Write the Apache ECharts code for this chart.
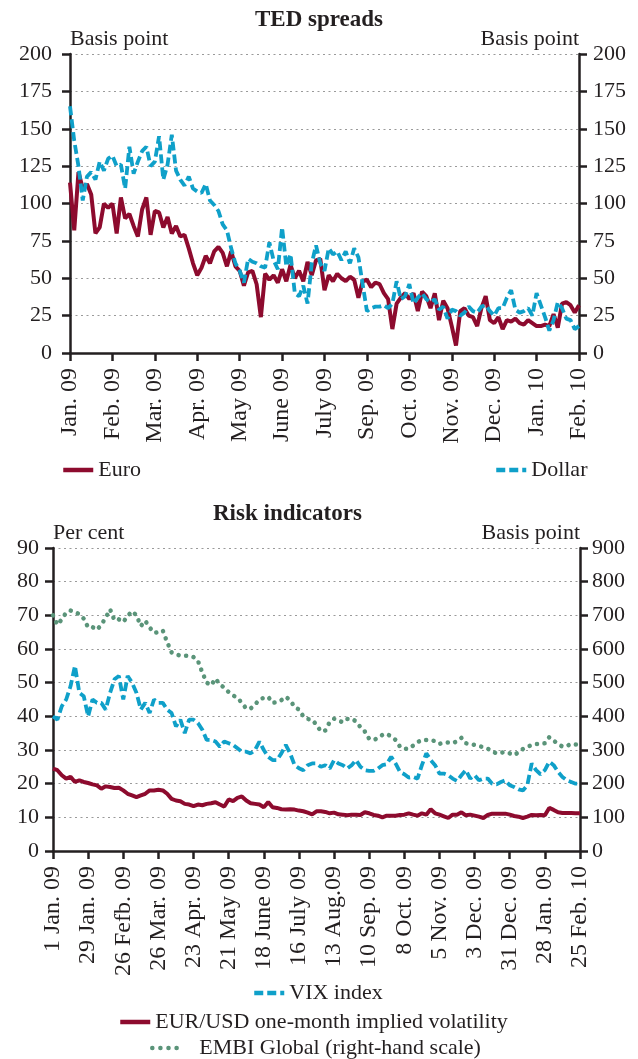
<!DOCTYPE html>
<html>
<head>
<meta charset="utf-8">
<script src="https://cdn.jsdelivr.net/npm/echarts@6/dist/echarts.min.js"></script>
<style>
  html, body { margin: 0; padding: 0; background: #fff; }
  #chart { width: 638px; height: 1059px; }
</style>
</head>
<body>
<div id="chart"></div>
<script>
// TED spreads, one point per ~2 business days, a labelled tick every TED_STEP points
const TED_STEP = 10
const tedTickLabels = ['Jan. 09', 'Feb. 09', 'Mar. 09', 'Apr. 09', 'May 09', 'June 09', 'July 09',
  'Sep. 09', 'Oct. 09', 'Nov. 09', 'Dec. 09', 'Jan. 10', 'Feb. 10']
const euro = [
  114, 82, 121, 110, 113, 106, 80, 84, 100, 97,
  100, 80, 104, 90, 93, 85, 78, 96, 104, 79,
  95, 94, 84, 91, 80, 85, 78, 79, 70, 60,
  52, 57, 65, 60, 68, 71, 67, 58, 68, 58,
  55, 45, 54, 55, 46, 24, 53, 49, 52, 47,
  56, 48, 59, 50, 55, 48, 61, 52, 62, 63,
  42, 52, 48, 53, 50, 48, 51, 49, 37, 48,
  49, 44, 47, 46, 40, 36, 16, 33, 37, 40,
  36, 40, 28, 41, 38, 30, 40, 22, 35, 30,
  18, 5, 28, 30, 25, 24, 18, 30, 38, 22,
  20, 24, 16, 22, 21, 23, 20, 19, 22, 20,
  18, 18, 19, 18, 26, 17, 33, 34, 32, 27, 32
]
const dollar = [
  165, 142, 125, 102, 118, 121, 116, 128, 122, 130,
  132, 125, 126, 110, 138, 120, 128, 135, 138, 125,
  128, 145, 116, 126, 146, 122, 116, 112, 118, 110,
  108, 107, 113, 102, 99, 95, 86, 82, 70, 60,
  55, 47, 63, 61, 60, 58, 57, 74, 62, 56,
  84, 58, 66, 40, 38, 45, 33, 60, 72, 60,
  55, 70, 66, 68, 62, 68, 60, 70, 64, 46,
  28, 30, 31, 31, 32, 30, 33, 48, 36, 38,
  46, 33, 37, 40, 36, 34, 36, 29, 31, 23,
  29, 28, 25, 27, 31, 28, 27, 31, 32, 28,
  25, 30, 30, 37, 42, 29, 27, 28, 30, 25,
  40, 32, 24, 15, 22, 34, 30, 23, 22, 16, 18
]

// Risk indicators, a labelled tick every RISK_STEP points (4 weeks)
const RISK_STEP = 8
const riskTickLabels = ['1 Jan. 09', '29 Jan. 09', '26 Fefb. 09', '26 Mar. 09', '23 Apr. 09', '21 May 09',
  '18 June 09', '16 July 09', '13 Aug.09', '10 Sep. 09', '8 Oct. 09', '5 Nov. 09', '3 Dec. 09',
  '31 Dec. 09', '28 Jan. 09', '25 Feb. 10']
const vix = [
  40, 39, 43, 45, 49, 55, 47, 46, 40, 45,
  44, 44, 42, 47, 51, 52, 45, 52, 50, 47,
  42, 44, 41, 45, 44, 44, 42, 41, 37, 39,
  35, 39, 39, 38, 36, 33, 33, 32.5, 31, 32.5,
  32, 31.5, 30.5, 29.5, 29.5, 29, 30, 32.5, 30, 28,
  27, 27, 29, 31.5, 29, 25.5, 24.6, 24, 25.5, 26,
  26, 25, 25.5, 24.5, 27, 26, 25.5, 24.5, 25.5, 27,
  25, 24, 23.8, 23.8, 24.5, 25.5, 25.8, 28, 26, 23.5,
  22.8, 21.8, 22, 21.5, 25.5, 29, 27, 25.5, 23, 23,
  22.5, 21.5, 20.8, 22.5, 24, 21.5, 22.5, 21, 21.5, 21.5,
  20, 19.8, 20.5, 21, 19.5, 19, 18.3, 18, 19.5, 26,
  24, 22.8, 24, 26.5, 25.5, 23.5, 22, 21, 20.5, 20, 20
]
const eurUsdVol = [
  24.5, 24, 22.5, 21.5, 22, 20.5, 21, 20.5, 20.2, 19.8,
  19.5, 18.5, 19.2, 19, 18.7, 18.8, 18, 17, 16.5, 16,
  16.5, 17, 18, 18, 18.2, 18, 17, 15.5, 15, 14.8,
  14, 13.8, 13.3, 13.8, 13.6, 14, 14.2, 14.5, 13.8, 13.2,
  15.3, 14.8, 15.8, 16.2, 15, 14.2, 14, 13.8, 13, 14.5,
  13, 12.8, 12.4, 12.3, 12.4, 12.3, 12, 11.8, 11.4, 10.9,
  11.8, 11.8, 11.6, 11.2, 11.4, 10.9, 10.8, 10.6, 10.8, 10.8,
  10.7, 11.5, 11.2, 10.7, 10.5, 10, 10.5, 10.5, 10.5, 10.7,
  10.8, 11.2, 10.8, 10.5, 11.2, 10.8, 12.4, 11.2, 10.8, 10.3,
  9.8, 10.8, 10.8, 11.5, 10.6, 10.8, 10.5, 10.2, 9.8, 10.7,
  11.1, 11.1, 11.1, 11.1, 10.8, 10.4, 10.2, 9.8, 10.2, 10.7,
  10.6, 10.7, 10.6, 12.8, 12.2, 11.5, 11.3, 11.3, 11.3, 11.2, 11.2
]
const embi = [
  700, 672, 688, 708, 714, 710, 703, 690, 664, 665,
  657, 672, 693, 718, 685, 688, 680, 698, 712, 700,
  668, 684, 664, 648, 650, 655, 620, 590, 584, 580,
  580, 580, 576, 565, 530, 500, 492, 512, 495, 485,
  472, 462, 455, 440, 423, 423, 435, 450, 455, 458,
  440, 442, 448, 458, 448, 428, 420, 400, 392, 390,
  375, 355, 358, 383, 393, 388, 382, 392, 393, 385,
  368, 355, 333, 330, 335, 345, 348, 340, 330, 310,
  303, 304, 313, 323, 330, 330, 330, 326, 318, 322,
  322, 320, 326, 336, 320, 318, 315, 312, 308, 304,
  296, 290, 292, 294, 290, 285, 293, 303, 310, 314,
  318, 318, 320, 338, 328, 318, 310, 312, 318, 316, 316
]

const FONT = "'Liberation Serif', 'Times New Roman', serif"
const INK = '#231f20'
const RED = '#8d0b2e'
const BLUE = '#0fa0c9'
const GREEN = '#5a9479'

const tedCats = euro.map((v, i) => String(i))
const riskCats = vix.map((v, i) => String(i))

const axisLineStyle = { color: INK, width: 2.5 }
const labelStyle = { fontFamily: FONT, fontSize: 22, color: INK }
const titleStyle = { fontFamily: FONT, fontSize: 23, fontWeight: 'bold', color: INK }

function catAxis (gridIndex, cats, step, labels) {
  const every = (i) => i % step === 0
  return {
    type: 'category',
    gridIndex: gridIndex,
    data: cats,
    boundaryGap: false,
    axisLine: { lineStyle: axisLineStyle },
    axisTick: { show: true, length: 8, interval: every, lineStyle: axisLineStyle },
    axisLabel: Object.assign({}, labelStyle, {
      interval: every,
      rotate: 90,
      margin: 15,
      fontSize: 24,
      formatter: (v, i) => labels[i / step] || ''
    }),
    splitLine: { show: false }
  }
}

function valAxis (gridIndex, pos, max, interval, name, grid, margin) {
  return {
    type: 'value',
    gridIndex: gridIndex,
    position: pos,
    min: 0,
    max: max,
    interval: interval,
    name: name,
    nameLocation: 'end',
    nameGap: 4,
    nameTextStyle: Object.assign({ align: pos === 'left' ? 'left' : 'right' }, labelStyle),
    axisLine: { show: true, lineStyle: axisLineStyle },
    axisTick: { show: true, length: 8, lineStyle: axisLineStyle },
    axisLabel: Object.assign({ margin: margin }, labelStyle),
    splitLine: {
      show: grid,
      lineStyle: { color: '#9a9a9a', width: 1.2, type: [2, 3.5] }
    }
  }
}

function legendFor (name, left, top, pad, dotted) {
  return {
    data: [name],
    left: left,
    top: top,
    padding: 0,
    itemWidth: 30,
    itemHeight: 14,
    selectedMode: false,
    // hide the marker that ECharts puts in the middle of a line icon
    itemStyle: { opacity: 0 },
    lineStyle: dotted
      ? { opacity: 1, width: 4.5, type: [0.1, 8], cap: 'round' }
      : { opacity: 1, width: 4.5 },
    textStyle: Object.assign({ padding: pad || 0 }, labelStyle)
  }
}

const chart = echarts.init(document.getElementById('chart'), null, { renderer: 'canvas' })
chart.setOption({
  animation: false,
  backgroundColor: '#fff',
  title: [
    { text: 'TED spreads', left: 'center', top: 4, textStyle: titleStyle },
    { text: 'Risk indicators', left: 208, top: 498, textStyle: titleStyle }
  ],
  grid: [
    { left: 70, right: 59, top: 54, height: 299 },
    { left: 53, right: 58, top: 548, height: 303 }
  ],
  xAxis: [
    catAxis(0, tedCats, TED_STEP, tedTickLabels),
    catAxis(1, riskCats, RISK_STEP, riskTickLabels)
  ],
  yAxis: [
    valAxis(0, 'left', 200, 25, 'Basis point', true, 18),
    valAxis(0, 'right', 200, 25, 'Basis point', false, 14),
    valAxis(1, 'left', 90, 10, 'Per cent', true, 14),
    valAxis(1, 'right', 900, 100, 'Basis point', false, 12)
  ],
  legend: [
    legendFor('Euro', 61, 459),
    legendFor('Dollar', 494, 459),
    legendFor('VIX index', 252, 982),
    legendFor('EUR/USD one-month implied volatility', 118, 1011),
    legendFor('EMBI Global (right-hand scale)', 150, 1037, [0, 0, 0, 12], true)
  ],
  series: [
    {
      name: 'Euro', type: 'line', xAxisIndex: 0, yAxisIndex: 0, data: euro,
      symbol: 'none', lineStyle: { color: RED, width: 4 }, itemStyle: { color: RED }
    },
    {
      name: 'Dollar', type: 'line', xAxisIndex: 0, yAxisIndex: 0, data: dollar,
      symbol: 'none', lineStyle: { color: BLUE, width: 3.8, type: [9, 4] }, itemStyle: { color: BLUE }
    },
    {
      name: 'EMBI Global (right-hand scale)', type: 'line', xAxisIndex: 1, yAxisIndex: 3, data: embi,
      symbol: 'none', lineStyle: { color: GREEN, width: 4.5, type: [0.1, 7.5], cap: 'round' }, itemStyle: { color: GREEN }
    },
    {
      name: 'VIX index', type: 'line', xAxisIndex: 1, yAxisIndex: 2, data: vix,
      symbol: 'none', lineStyle: { color: BLUE, width: 3.8, type: [9, 4] }, itemStyle: { color: BLUE }
    },
    {
      name: 'EUR/USD one-month implied volatility', type: 'line', xAxisIndex: 1, yAxisIndex: 2, data: eurUsdVol,
      symbol: 'none', lineStyle: { color: RED, width: 4 }, itemStyle: { color: RED }
    }
  ]
})
</script>
</body>
</html>
